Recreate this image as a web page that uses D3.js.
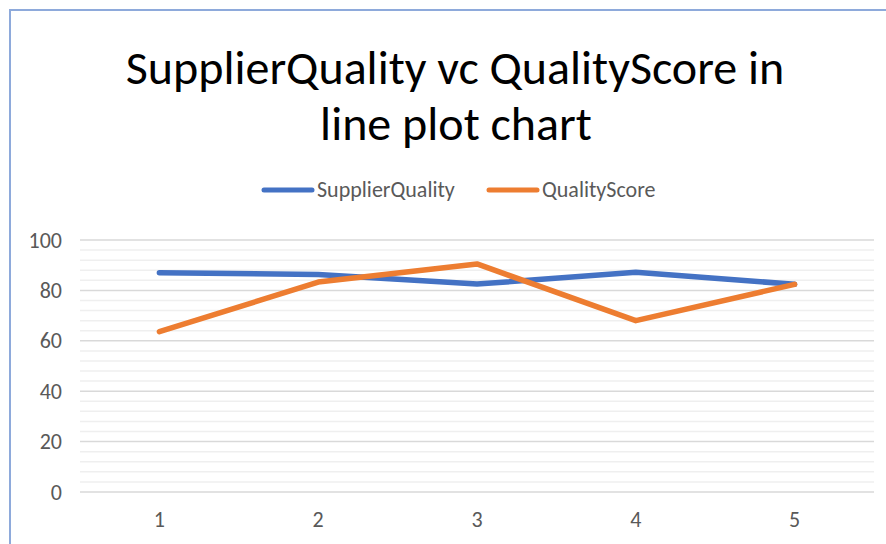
<!DOCTYPE html>
<html>
<head>
<meta charset="utf-8">
<script src="https://d3js.org/d3.v7.min.js"></script>
<style>
  html, body { margin: 0; padding: 0; background: #fff; }
</style>
</head>
<body>
<div id="chart"></div>
<script>
const categories = ["1", "2", "3", "4", "5"];
const supplierQuality = [87, 86.3, 82.5, 87.2, 82.4];
const qualityScore = [63.6, 83.3, 90.5, 68, 82.4];
const yTicks = [0, 20, 40, 60, 80, 100];
const seriesNames = ["SupplierQuality", "QualityScore"];

function drawLineChart() {
  const svgWidth = 886;
  const svgHeight = 544;
  const margin = { top: 240, right: 12, bottom: 52, left: 80 };
  const width = svgWidth - margin.left - margin.right;
  const height = svgHeight - margin.top - margin.bottom;
  const font = "Calibri, Carlito, Lato, sans-serif";

  const svg = d3.select("#chart")
    .append("svg")
    .attr("width", svgWidth)
    .attr("height", svgHeight)
    .style("font-family", font);

  // chart frame
  svg.append("rect")
    .attr("x", 10)
    .attr("y", 10)
    .attr("width", 900)
    .attr("height", 560)
    .attr("fill", "none")
    .attr("stroke", "#8eaadb")
    .attr("stroke-width", 2);

  const chart = svg.append("g")
    .attr("transform", `translate(${margin.left},${margin.top})`);

  const x = d3.scaleBand()
    .domain(categories)
    .range([0, width]);

  const y = d3.scaleLinear()
    .domain([0, 100])
    .range([height, 0]);

  // minor gridlines
  chart.append("g")
    .selectAll("line")
    .data(d3.range(0, 101, 4).filter(v => v % 20 !== 0))
    .join("line")
    .attr("x1", 0)
    .attr("x2", width)
    .attr("y1", d => y(d))
    .attr("y2", d => y(d))
    .attr("stroke", "#efefef")
    .attr("stroke-width", 1.5);

  // major gridlines
  chart.append("g")
    .selectAll("line")
    .data(yTicks)
    .join("line")
    .attr("x1", 0)
    .attr("x2", width)
    .attr("y1", d => y(d))
    .attr("y2", d => y(d))
    .attr("stroke", "#d9d9d9")
    .attr("stroke-width", 1.5);

  const yAxis = chart.append("g")
    .call(d3.axisLeft(y).tickValues(yTicks).tickSize(0).tickPadding(18));
  yAxis.select(".domain").remove();
  yAxis.selectAll("text")
    .style("font-size", "22px")
    .style("font-family", font)
    .attr("fill", "#595959");

  const xAxis = chart.append("g")
    .attr("transform", `translate(0,${height})`)
    .call(d3.axisBottom(x).tickSize(0).tickPadding(19));
  xAxis.select(".domain").remove();
  xAxis.selectAll("text")
    .style("font-size", "22px")
    .style("font-family", font)
    .attr("fill", "#595959");

  const color = d3.scaleOrdinal()
    .domain(seriesNames)
    .range(["#4472c4", "#ed7d31"]);

  const line = d3.line()
    .x((d, i) => x(categories[i]) + x.bandwidth() / 2)
    .y(d => y(d));

  [supplierQuality, qualityScore].forEach((vals, i) => {
    chart.append("path")
      .datum(vals)
      .attr("d", line)
      .attr("fill", "none")
      .attr("stroke", color(seriesNames[i]))
      .attr("stroke-width", 5.5)
      .attr("stroke-linejoin", "round")
      .attr("stroke-linecap", "round");
  });

  // Title
  const title = svg.append("text")
    .attr("text-anchor", "middle")
    .style("font-size", "48px")
    .attr("fill", "#000");
  title.append("tspan").attr("x", 455).attr("y", 84).text("SupplierQuality vc QualityScore in");
  title.append("tspan").attr("x", 456).attr("y", 140).text("line plot chart");

  // Legend
  const legendX = [262, 487];
  seriesNames.forEach((name, i) => {
    const row = svg.append("g").attr("transform", `translate(${legendX[i]},190)`);
    row.append("line")
      .attr("x1", 2)
      .attr("x2", 50)
      .attr("stroke", color(name))
      .attr("stroke-width", 5)
      .attr("stroke-linecap", "round");
    row.append("text")
      .attr("x", 55)
      .attr("y", 7)
      .style("font-size", "22px")
      .attr("fill", "#595959")
      .text(name);
  });
}

drawLineChart();
</script>
</body>
</html>
